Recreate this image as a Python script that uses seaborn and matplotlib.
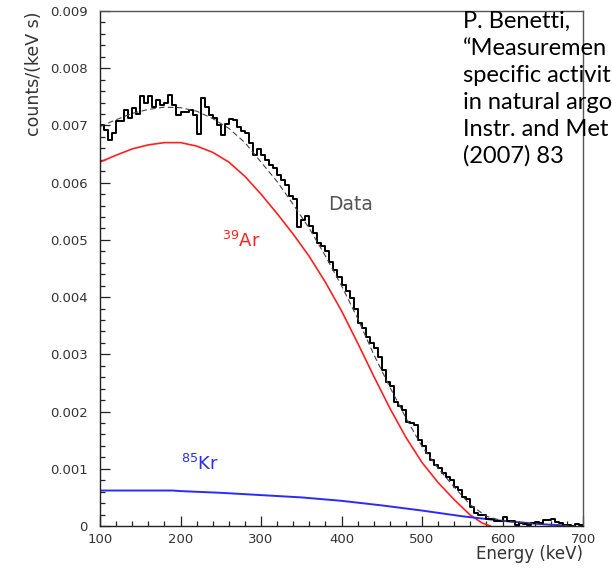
import pandas as pd
import seaborn as sns
import matplotlib
matplotlib.use("Agg")
import matplotlib.pyplot as plt
from matplotlib.ticker import MultipleLocator

# ---- measured spectrum: 5 keV bins from 100 to 700 keV, counts/(keV s) ----
bin_lo_kev = 100
bin_hi_kev = 700
bin_width_kev = 5
data_rate = [
    0.00701, 0.00692, 0.00675, 0.00687, 0.00707, 0.00707, 0.00727, 0.00713,
    0.00730, 0.00720, 0.00751, 0.00740, 0.00751, 0.00733, 0.00745, 0.00735,
    0.00740, 0.00753, 0.00735, 0.00719, 0.00724, 0.00724, 0.00727, 0.00719,
    0.00685, 0.00748, 0.00732, 0.00718, 0.00713, 0.00701, 0.00684, 0.00703,
    0.00712, 0.00710, 0.00698, 0.00690, 0.00686, 0.00670, 0.00649, 0.00658,
    0.00649, 0.00640, 0.00631, 0.00626, 0.00614, 0.00605, 0.00596, 0.00576,
    0.00572,
    0.00523, 0.00535, 0.00541, 0.00525, 0.00512, 0.00494, 0.00490, 0.00480,
    0.00462, 0.00448, 0.00436, 0.00421, 0.00410, 0.00398, 0.00380, 0.00354,
    0.00346, 0.00331, 0.00319, 0.00311, 0.00296,
    0.00272, 0.00252, 0.00245, 0.00217, 0.00210, 0.00203, 0.00182, 0.00180,
    0.00177, 0.00150, 0.00139, 0.00127, 0.00115, 0.00107, 0.00101, 0.00092,
    0.00086, 0.00080, 0.00069, 0.00063, 0.00051, 0.00047,
    0.00034, 0.00022, 0.00020, 0.00020, 0.00013, 0.00012, 0.00008, 0.00009,
    0.00016, 0.00008, 0.00008, 0.00002, 0.00005, 0.00004, 0.00002, 0.00005,
    0.00007, 0.00005, 0.00010, 0.00010, 0.00013, 0.00007, 0.00005, 0.00002,
    0.00001, 0.00000, 0.00004, 0.00001,
]

# ---- 39Ar component ----
ar_energy = [100, 120, 140, 160, 180, 200, 220, 240, 260, 280, 300, 320, 340,
             360, 380, 400, 420, 440, 460, 480, 500, 520, 540, 560, 575, 585]
ar_rate = [0.00636, 0.00648, 0.00659, 0.00666, 0.00670, 0.00670, 0.00664,
           0.00653, 0.00636, 0.00611, 0.00580, 0.00546, 0.00510, 0.00471,
           0.00426, 0.00376, 0.00320, 0.00262, 0.00206, 0.00155, 0.00111,
           0.00076, 0.00046, 0.00019, 0.00005, 0.00000]

# ---- 85Kr component ----
kr_energy = [100, 150, 190, 200, 250, 300, 350, 400, 450, 500, 550, 600, 650, 690]
kr_rate = [0.00062, 0.00062, 0.00062, 0.00061, 0.00058, 0.00054, 0.00050,
           0.00044, 0.00036, 0.00027, 0.00017, 0.00009, 0.00003, 0.00000]

# ---- total fit ----
fit_energy = [100, 120, 140, 160, 180, 200, 220, 240, 260, 280, 300, 320, 340,
              360, 380, 400, 420, 440, 460, 480, 500, 520, 540, 560, 580, 600,
              620, 650, 690]
fit_rate = [0.00698, 0.00710, 0.00721, 0.00728, 0.00732, 0.00731, 0.00725,
            0.00712, 0.00695, 0.00670, 0.00636, 0.00602, 0.00562, 0.00520,
            0.00472, 0.00420, 0.00363, 0.00300, 0.00243, 0.00189, 0.00139,
            0.00101, 0.00068, 0.00037, 0.00017, 0.00009, 0.00006, 0.00003,
            0.00000]

x_ticks = [100, 200, 300, 400, 500, 600, 700]
y_ticks = [0, 0.001, 0.002, 0.003, 0.004, 0.005, 0.006, 0.007, 0.008, 0.009]
y_tick_labels = ["0", "0.001", "0.002", "0.003", "0.004", "0.005", "0.006",
                 "0.007", "0.008", "0.009"]

# reference note beside the frame (runs off the slide's right edge)
citation_lines = [
    "P. Benetti,",
    "\u201cMeasuremen",
    "specific activit",
    "in natural argo",
    "Instr. and Met",
    "(2007) 83",
]

sns.set_theme(style="ticks")
plt.rcParams["font.family"] = ["DejaVu Sans"]
plt.rcParams["mathtext.fontset"] = "dejavusans"

W, H = 612, 570
fig = plt.figure(figsize=(W / 100, H / 100), dpi=100)
fig.patch.set_facecolor("white")
ax = fig.add_axes([100 / W, 44 / H, 483 / W, 515 / H])
ax.set_facecolor("white")

edges = [float(e) for e in range(bin_lo_kev, bin_hi_kev + bin_width_kev, bin_width_kev)]
centers = [e + bin_width_kev / 2 for e in edges[:-1]]
hist_df = pd.DataFrame({"energy": centers, "rate": data_rate})

sns.lineplot(x=ar_energy, y=ar_rate, color="#ff2020", lw=1.2, ax=ax)
sns.lineplot(x=kr_energy, y=kr_rate, color="#2a2aff", lw=1.4, ax=ax)
sns.histplot(data=hist_df, x="energy", weights="rate", bins=edges,
             element="step", fill=False, color="black", linewidth=1.4, ax=ax)
sns.lineplot(x=fit_energy, y=fit_rate, color="#444444", lw=0.8,
             linestyle=(0, (5, 3)), ax=ax)

ax.set_xlim(100, 700)
ax.set_ylim(0, 0.009)
ax.set_xticks(x_ticks)
ax.set_xticklabels([str(v) for v in x_ticks])
ax.set_yticks(y_ticks)
ax.set_yticklabels(y_tick_labels)
ax.xaxis.set_minor_locator(MultipleLocator(20))
ax.yaxis.set_minor_locator(MultipleLocator(0.0002))
ax.tick_params(which="both", direction="in", top=False, right=False,
               color="#222222", width=0.9, labelcolor="#333333", labelsize=9.5)
ax.tick_params(which="major", length=7)
ax.tick_params(which="minor", length=3.5)
ax.tick_params(axis="y", pad=9)
ax.tick_params(axis="x", pad=5)

for name, sp in ax.spines.items():
    sp.set_visible(True)
    sp.set_linewidth(1.0)
    sp.set_color("#222222" if name in ("left", "bottom") else "#555555")

ax.set_ylabel("counts/(keV s)", loc="top", fontsize=12.5, color="#333333")
ax.yaxis.set_label_coords(-0.119, 1.0)
ax.set_xlabel("Energy (keV)", loc="right", fontsize=12, color="#333333")
ax.xaxis.set_label_coords(1.0, -0.036)

ax.text(384, 0.00561, "Data", fontsize=13.5, color="#555555", va="center")
ax.text(252, 0.00488, r"$^{39}$Ar", fontsize=13, color="#ff2020", va="baseline")
ax.text(201, 0.00098, r"$^{85}$Kr", fontsize=13, color="#2a2aff", va="baseline")

for i, line in enumerate(citation_lines):
    fig.text(463 / W, 1 - (28 + 27 * i) / H, line, fontsize=17,
             family=["Lato", "DejaVu Sans"], color="black", va="baseline",
             ha="left")

fig.savefig("out.png", dpi=100)
